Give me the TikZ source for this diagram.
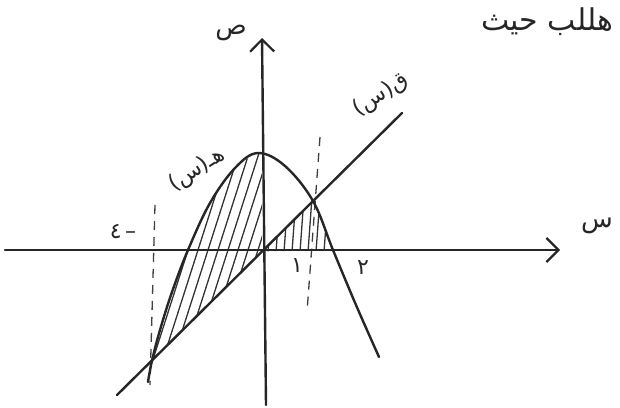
\documentclass[tikz,border=0pt]{standalone}
\usepackage{fontspec}
\newfontfamily\arabicfont[Script=Arabic]{DejaVu Sans}
\TeXXeTstate=1
\usetikzlibrary{arrows.meta}
\begin{document}
\begin{tikzpicture}[x=1pt,y=-1pt,
  ink/.style={line width=2.4pt, line cap=round, line join=round, black!85},
  axis/.style={ink, -{Straight Barb[length=12pt,width=24pt,line width=2.2pt]}},
  guide/.style={line width=1.3pt, dash pattern=on 9pt off 7pt, black!75},
  hatch/.style={line width=1.3pt, black!80},
  lbl/.style={font=\arabicfont\fontsize{22}{22}\selectfont, inner sep=0pt, black!85}]
\useasboundingbox (0,0) rectangle (620,407);
\fill[white] (0,0) rectangle (620,407);

% key points
\coordinate (O) at (262,251.5);
\coordinate (xs) at (5,250);
\coordinate (xe) at (560,250);
\coordinate (ys) at (266,405);
\coordinate (ye) at (262,38);
\coordinate (A) at (117,395);
\coordinate (B) at (402,113);
\coordinate (P) at (313,201);
\coordinate (Q) at (152,360.5);
\coordinate (d1a) at (155,205);
\coordinate (d1b) at (150,385);
\coordinate (d2a) at (320,137);
\coordinate (d2b) at (307,312);

% hatching, left region
\begin{scope}
  \clip plot[smooth, tension=0.6] coordinates {(152,360.5) (160,330) (172,292) (188,250) (210,203) (235,168) (258,153)} -- (262,153.2) -- (O) -- cycle;
  \foreach \i in {70,80,...,270} \draw[hatch] (\i,400) -- ++(80,-250);
\end{scope}
% hatching, right region
\begin{scope}
  \clip (O) -- (P) -- plot[smooth, tension=0.6] coordinates {(313,201) (323,224) (333,250)} -- cycle;
  \foreach \i in {268,276,...,336} \draw[hatch] (\i,252) -- ++(4,-55);
\end{scope}

% dashed guides
\draw[guide] (d1a) -- (d1b);
\draw[guide] (d2a) -- (d2b);

% axes
\draw[axis] (xs) -- (xe);
\draw[axis] (ys) -- (ye);

% line and parabola
\draw[ink] (A) -- (B);
\draw[ink] plot[smooth, tension=0.6] coordinates {(148,382) (152,360.5) (160,330) (172,292) (188,250) (210,203) (235,168) (258,153) (285,166) (313,201) (333,250) (356,305) (379,357)};

% labels
\node[lbl, font=\arabicfont\fontsize{26}{26}\selectfont] (ylab) at (231,33) {ص};
\node[lbl, font=\arabicfont\fontsize{26}{26}\selectfont] (xlab) at (597,226) {س};
\node[lbl, rotate=33] (glab) at (197,170) {هـ(س)};
\node[lbl, rotate=33] (flab) at (381,95) {ق(س)};
\node[lbl] (m4) at (123,232) {٤\,–};
\node[lbl] (one) at (297,266) {١};
\node[lbl] (two) at (363,268) {٢};
\node[lbl, font=\arabicfont\fontsize{30}{30}\selectfont] (top) at (547,22) {\beginR هللب حيث\endR};
\end{tikzpicture}
\end{document}
